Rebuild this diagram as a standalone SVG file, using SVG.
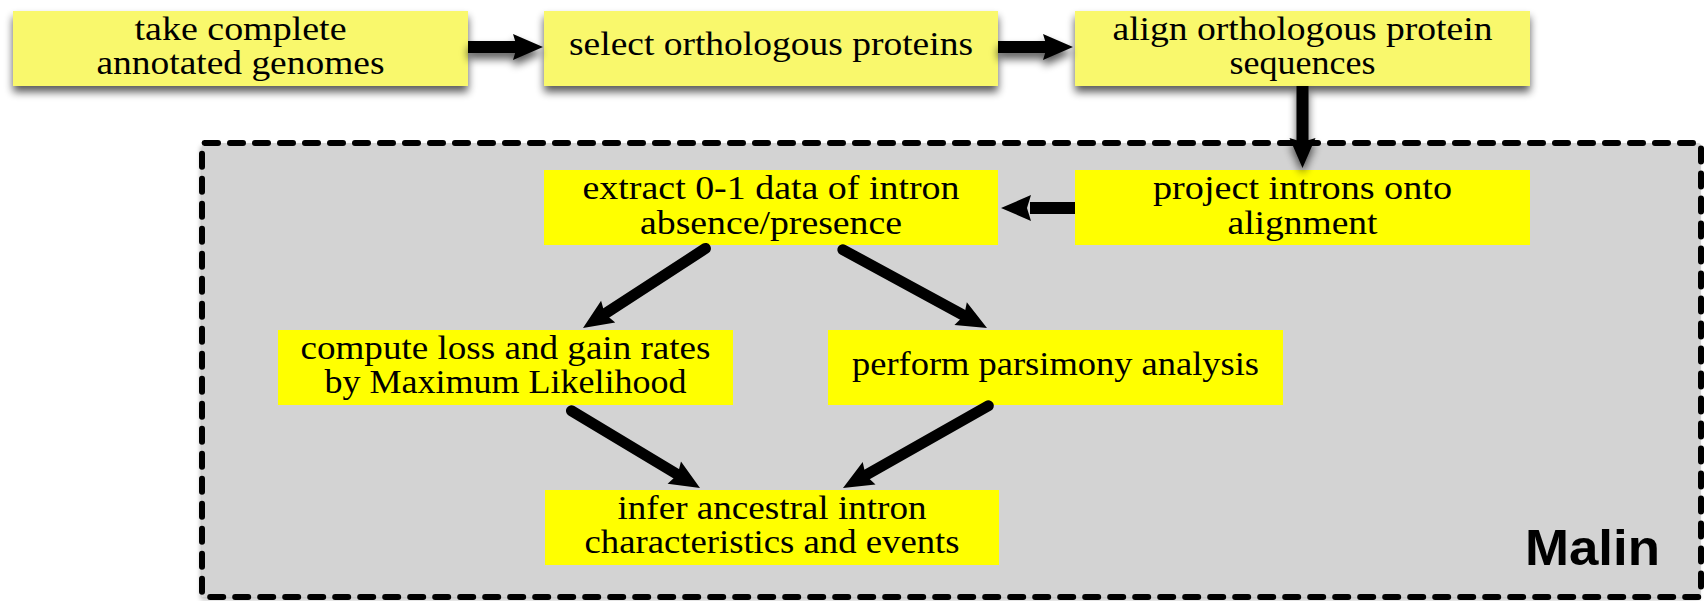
<svg xmlns="http://www.w3.org/2000/svg" width="1707" height="601" viewBox="0 0 1707 601">
  <style>
    .lbl { font-family: "Liberation Serif", "Times New Roman", serif; font-size: 34px; fill: #000; text-anchor: middle; }
    .pre { fill: #f9f86c; }
    .step { fill: #ffff00; }
    .shaft { stroke: #000; stroke-width: 11; stroke-linecap: round; fill: none; }
    .bar { fill: #000; }
    .tag { font-family: "Liberation Sans", Arial, sans-serif; font-weight: bold; font-size: 50px; fill: #000; }
  </style>
  <defs>
    <filter id="lift" x="-10%" y="-30%" width="120%" height="180%">
      <feGaussianBlur in="SourceAlpha" stdDeviation="4"/>
      <feOffset dx="0" dy="6" result="off"/>
      <feComponentTransfer><feFuncA type="linear" slope="0.65"/></feComponentTransfer>
      <feMerge><feMergeNode/><feMergeNode in="SourceGraphic"/></feMerge>
    </filter>
    <filter id="soft" x="-5%" y="-5%" width="110%" height="110%">
      <feDropShadow dx="-2" dy="3" stdDeviation="2" flood-color="#000" flood-opacity="0.25"/>
    </filter>
    <!-- arrow head pointing along +x, tip at origin -->
    <path id="head" d="M0,0 L-30,-13 L-26,0 L-30,13 Z"/>
  </defs>

  <!-- Malin region -->
  <g id="malin">
    <rect x="202" y="143" width="1499" height="454" rx="3" fill="#d3d3d3" filter="url(#soft)"/>
    <rect x="202" y="143" width="1499" height="454" rx="3" fill="none" stroke="#000" stroke-width="6" stroke-dasharray="13 12" stroke-linecap="round"/>
    <text class="tag" x="1660" y="565" text-anchor="end" textLength="135" lengthAdjust="spacingAndGlyphs">Malin</text>
  </g>

  <!-- preparation steps -->
  <g id="take-genomes">
    <rect class="pre" x="13" y="11" width="455" height="75" filter="url(#lift)"/>
    <text class="lbl" x="240.5" y="40" textLength="212" lengthAdjust="spacingAndGlyphs">take complete</text>
    <text class="lbl" x="240.5" y="74" textLength="288" lengthAdjust="spacingAndGlyphs">annotated genomes</text>
  </g>
  <g id="select-orthologs">
    <rect class="pre" x="544" y="11" width="454" height="75" filter="url(#lift)"/>
    <text class="lbl" x="771" y="55" textLength="404" lengthAdjust="spacingAndGlyphs">select orthologous proteins</text>
  </g>
  <g id="align-sequences">
    <rect class="pre" x="1075" y="11" width="455" height="75" filter="url(#lift)"/>
    <text class="lbl" x="1302.5" y="40" textLength="380" lengthAdjust="spacingAndGlyphs">align orthologous protein</text>
    <text class="lbl" x="1302.5" y="74" textLength="146" lengthAdjust="spacingAndGlyphs">sequences</text>
  </g>

  <!-- Malin steps -->
  <g id="project-introns">
    <rect class="step" x="1075" y="170" width="455" height="75"/>
    <text class="lbl" x="1302.5" y="199" textLength="299" lengthAdjust="spacingAndGlyphs">project introns onto</text>
    <text class="lbl" x="1302.5" y="234" textLength="150" lengthAdjust="spacingAndGlyphs">alignment</text>
  </g>
  <g id="extract-data">
    <rect class="step" x="544" y="170" width="454" height="75"/>
    <text class="lbl" x="771" y="199" textLength="377" lengthAdjust="spacingAndGlyphs">extract 0-1 data of intron</text>
    <text class="lbl" x="771" y="234" textLength="262" lengthAdjust="spacingAndGlyphs">absence/presence</text>
  </g>
  <g id="compute-rates">
    <rect class="step" x="278" y="330" width="455" height="75"/>
    <text class="lbl" x="505.5" y="359" textLength="410" lengthAdjust="spacingAndGlyphs">compute loss and gain rates</text>
    <text class="lbl" x="505.5" y="393" textLength="362" lengthAdjust="spacingAndGlyphs">by Maximum Likelihood</text>
  </g>
  <g id="parsimony">
    <rect class="step" x="828" y="330" width="455" height="75"/>
    <text class="lbl" x="1055.5" y="375" textLength="407" lengthAdjust="spacingAndGlyphs">perform parsimony analysis</text>
  </g>
  <g id="infer-ancestral">
    <rect class="step" x="545" y="490" width="454" height="75"/>
    <text class="lbl" x="772" y="519" textLength="309" lengthAdjust="spacingAndGlyphs">infer ancestral intron</text>
    <text class="lbl" x="772" y="553" textLength="375" lengthAdjust="spacingAndGlyphs">characteristics and events</text>
  </g>

  <!-- connectors -->
  <g id="connectors">
    <g filter="url(#lift)">
      <rect class="bar" x="468" y="41" width="50" height="12"/>
      <use href="#head" transform="translate(543,47)"/>
      <rect class="bar" x="998" y="41" width="50" height="12"/>
      <use href="#head" transform="translate(1073,47)"/>
      <rect class="bar" x="1296.5" y="86" width="12" height="56"/>
      <use href="#head" transform="translate(1302.5,168) rotate(90)"/>
    </g>
    <rect class="bar" x="1030" y="202" width="45" height="12"/>
    <use href="#head" transform="translate(1001,208) rotate(180)"/>

    <g transform="translate(583,328) rotate(147)">
      <line class="shaft" x1="-146" y1="0" x2="-26" y2="0"/>
      <use href="#head"/>
    </g>
    <g transform="translate(987,328) rotate(28.5)">
      <line class="shaft" x1="-164" y1="0" x2="-26" y2="0"/>
      <use href="#head"/>
    </g>
    <g transform="translate(700,488) rotate(31)">
      <line class="shaft" x1="-150" y1="0" x2="-26" y2="0"/>
      <use href="#head"/>
    </g>
    <g transform="translate(843,488) rotate(150.5)">
      <line class="shaft" x1="-167" y1="0" x2="-26" y2="0"/>
      <use href="#head"/>
    </g>
  </g>
</svg>
